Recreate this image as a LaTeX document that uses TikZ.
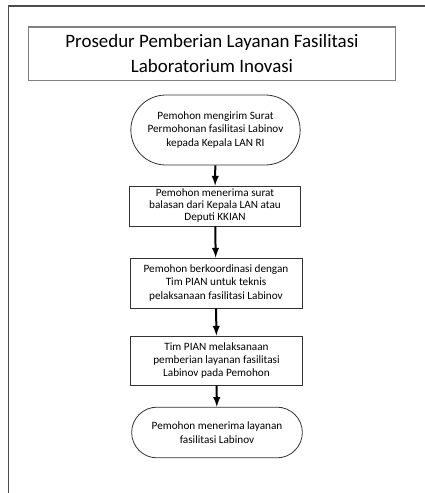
\documentclass[tikz,border=0pt]{standalone}
\usepackage{fontspec}
\setmainfont{Carlito}
\usetikzlibrary{arrows,shapes.misc}

\begin{document}
\begin{tikzpicture}[x=0.75pt,y=-0.75pt,
  box/.style={draw=black!80,line width=0.6pt,align=center,inner sep=0.5pt,
    font=\fontsize{8.4}{10}\selectfont,minimum width=128pt},
  term/.style={box,rounded rectangle},
  judul/.style={draw=black!50,line width=1pt,align=center,
    font=\fontsize{14.2}{18.8}\selectfont,minimum width=275pt,minimum height=40pt}]

\useasboundingbox (0,0) rectangle (425,493);
\draw [black!70,line width=1.4pt] (8.5,493) -- (8.5,6) -- (425,6);

\node [judul] (T) at (212,53.5) {Prosedur Pemberian Layanan Fasilitasi\\Laboratorium Inovasi};
\node [term,minimum height=52.5pt] (A) at (215.5,130) {Pemohon mengirim Surat\\Permohonan fasilitasi Labinov\\kepada Kepala LAN RI};
\node [box,minimum height=30pt,font=\fontsize{8.4}{9}\selectfont] (B) at (215,206) {Pemohon menerima surat\\balasan dari Kepala LAN atau\\Deputi KKIAN};
\node [box,minimum width=129pt,minimum height=37.5pt] (C) at (216,283) {Pemohon berkoordinasi dengan\\Tim PIAN untuk teknis\\pelaksanaan fasilitasi Labinov};
\node [box,minimum width=128.5pt,minimum height=36.8pt] (D) at (216.5,360.5) {Tim PIAN melaksanaan\\pemberian layanan fasilitasi\\Labinov pada Pemohon};
\node [term,minimum width=129pt,minimum height=38pt] (E) at (217,432.5) {Pemohon menerima layanan\\fasilitasi Labinov};

\path [-latex,line width=1.5pt] (A) edge (B);
\path [-latex,line width=1.5pt] (B) edge (C);
\path [-latex,line width=1.5pt] (C) edge (D);
\path [-latex,line width=1.5pt] (D) edge (E);
\end{tikzpicture}
\end{document}
